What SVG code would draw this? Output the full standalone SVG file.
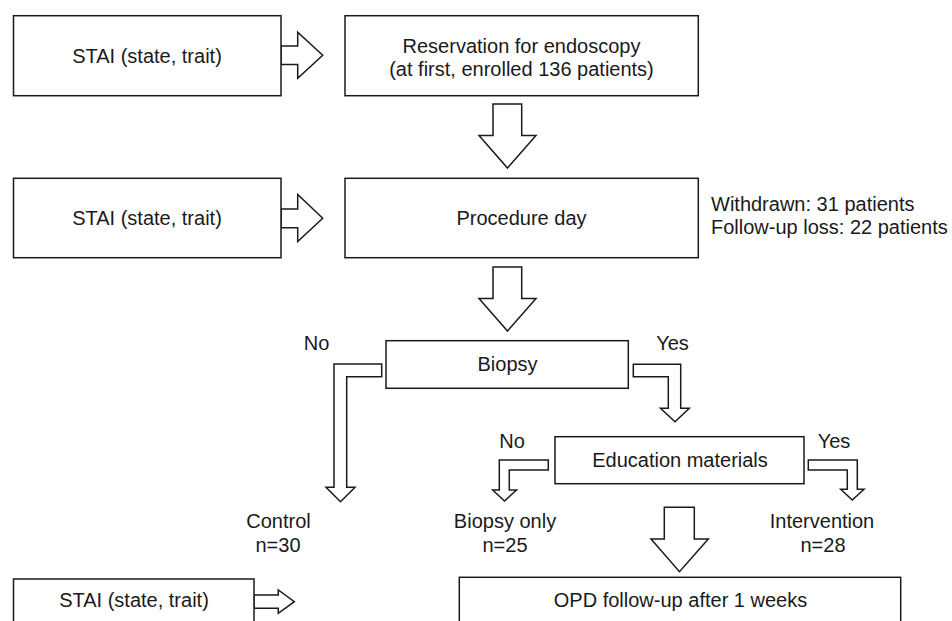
<svg xmlns="http://www.w3.org/2000/svg" width="952" height="621" viewBox="0 0 952 621">
<style>
.box{fill:#fff;stroke:#1a1a1a;stroke-width:1.5}
.arr{fill:#fff;stroke:#1a1a1a;stroke-width:1.5;stroke-linejoin:miter}
text{font-family:"Liberation Sans",Arial,sans-serif;font-size:20px;fill:#1a1a1a}
.c{text-anchor:middle}
</style>
<rect width="952" height="621" fill="#fff"/>
<g id="connectors">
<polygon class="arr" points="281,46 297.7,46 297.7,32.3 322.7,55.3 297.7,78.3 297.7,64.6 281,64.6"/>
<polygon class="arr" points="281,209 297.7,209 297.7,194.5 322.7,218.3 297.7,241.5 297.7,227.7 281,227.7"/>
<polygon class="arr" points="254,595 278.3,595 278.3,590 294.3,601.7 278.3,613.3 278.3,608.3 254,608.3"/>
<polygon class="arr" points="493,104 521.7,104 521.7,135.5 536,135.5 507.5,168 479,135.5 493,135.5"/>
<polygon class="arr" points="493,267 521.7,267 521.7,298.5 536,298.5 507.5,331 479,298.5 493,298.5"/>
<polygon class="arr" points="381.7,364 334,364 334,487.3 326,487.3 340.5,501.7 355,487.3 346.7,487.3 346.7,376.7 381.7,376.7"/>
<polygon class="arr" points="633.3,364.3 680.7,364.3 680.7,408.3 689.3,408.3 675,421.7 660.5,408.3 668.3,408.3 668.3,376.7 633.3,376.7"/>
<polygon class="arr" points="548.3,460 499.3,460 499.3,490 492.7,490 504.5,501 516.5,490 509.3,490 509.3,470 548.3,470"/>
<polygon class="arr" points="808.3,460 857.3,460 857.3,489.3 864,489.3 852.3,500 840.7,489.3 847.3,489.3 847.3,470 808.3,470"/>
<polygon class="arr" points="664.3,507.3 694.3,507.3 694.3,539 708.3,539 679.5,571.7 651,539 664.3,539"/>
</g>
<g id="stai1"><rect class="box" x="13.5" y="15.7" width="267.5" height="80"/><text class="c" x="147" y="62.5">STAI (state, trait)</text></g>
<g id="reservation"><rect class="box" x="345" y="15.7" width="353.3" height="80"/><text class="c" x="521.5" y="53">Reservation for endoscopy</text><text class="c" x="521.5" y="76">(at first, enrolled 136 patients)</text></g>
<g id="stai2"><rect class="box" x="13.5" y="178.3" width="267.5" height="79.4"/><text class="c" x="147" y="224.5">STAI (state, trait)</text></g>
<g id="procedure"><rect class="box" x="345" y="178.3" width="353.3" height="79.4"/><text class="c" x="521.5" y="224.5">Procedure day</text></g>
<g id="withdrawn"><text x="711" y="211">Withdrawn: 31 patients</text><text x="711" y="234">Follow-up loss: 22 patients</text></g>
<g id="biopsy"><rect class="box" x="386" y="340.7" width="242.3" height="47.6"/><text class="c" x="507.5" y="371">Biopsy</text></g>
<g id="no1"><text class="c" x="316.5" y="350">No</text></g>
<g id="yes1"><text class="c" x="672.5" y="350">Yes</text></g>
<g id="education"><rect class="box" x="555" y="436.7" width="249" height="47"/><text class="c" x="680" y="467">Education materials</text></g>
<g id="no2"><text class="c" x="512" y="448">No</text></g>
<g id="yes2"><text class="c" x="834" y="448">Yes</text></g>
<g id="control"><text class="c" x="278.5" y="527.5">Control</text><text class="c" x="278" y="551.5">n=30</text></g>
<g id="biopsyonly"><text class="c" x="505" y="527.5">Biopsy only</text><text class="c" x="505" y="551.5">n=25</text></g>
<g id="intervention"><text class="c" x="822" y="527.5">Intervention</text><text class="c" x="823" y="551.5">n=28</text></g>
<g id="stai3"><rect class="box" x="13.5" y="579" width="240.5" height="60"/><text class="c" x="134" y="607">STAI (state, trait)</text></g>
<g id="opd"><rect class="box" x="459.3" y="577.3" width="441.4" height="60"/><text class="c" x="680.5" y="607">OPD follow-up after 1 weeks</text></g>
</svg>
